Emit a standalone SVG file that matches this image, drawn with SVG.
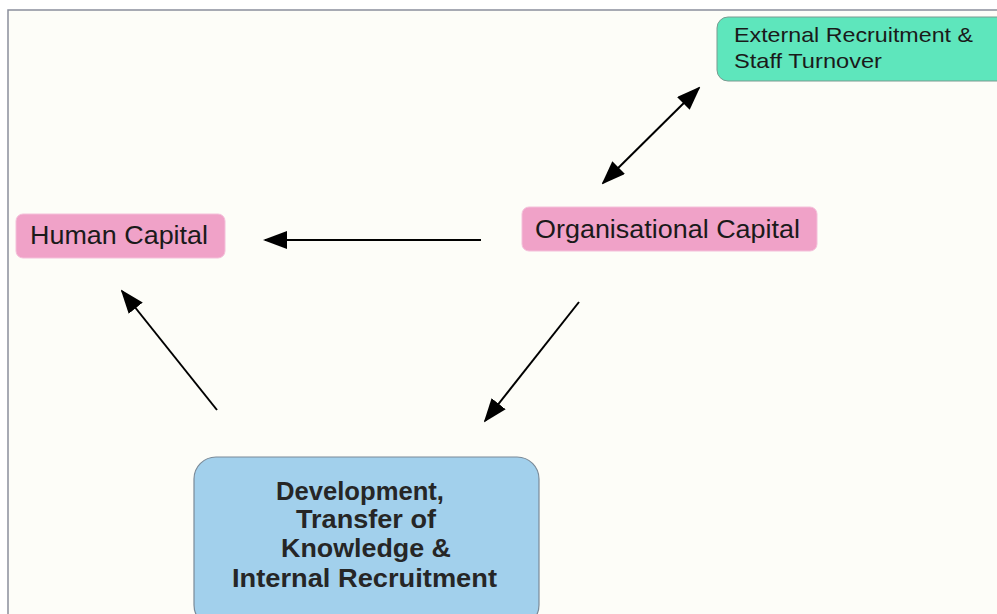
<svg xmlns="http://www.w3.org/2000/svg" width="997" height="614" viewBox="0 0 997 614">
<style>
.pink{fill:#f0a2c8;stroke:#f4c0da;stroke-width:1}
.t{font-family:"Liberation Sans",Arial,sans-serif;fill:#1a1a1a}
.b{font-size:26px;font-weight:bold;fill:#262626}
.c{stroke:#000;stroke-width:2;fill:none}
</style>
<defs>
<marker id="ah" viewBox="0 0 24 18" refX="22" refY="9" markerWidth="24" markerHeight="18" markerUnits="userSpaceOnUse" orient="auto-start-reverse">
<path d="M0,0 L24,9 L0,18 Z" fill="#000"/>
</marker>
</defs>
<rect x="0" y="0" width="997" height="614" fill="#ffffff"/>
<rect x="8" y="10" width="995" height="610" fill="#fdfdf8" stroke="#8a8f9c" stroke-width="1.5"/>
<g id="connectors">
<line class="c" x1="481" y1="240" x2="265" y2="240" marker-end="url(#ah)"/>
<line class="c" x1="603" y1="183" x2="699" y2="88" marker-start="url(#ah)" marker-end="url(#ah)"/>
<line class="c" x1="579" y1="302" x2="485" y2="421" marker-end="url(#ah)"/>
<line class="c" x1="217" y1="410" x2="122" y2="291" marker-end="url(#ah)"/>
</g>
<g id="external">
<rect x="717" y="17" width="300" height="64" rx="11" fill="#5ee6bc" stroke="#7a9a90" stroke-width="1"/>
<text class="t" x="734" y="42" font-size="21" textLength="239" lengthAdjust="spacingAndGlyphs">External Recruitment &amp;</text>
<text class="t" x="734" y="68" font-size="21" textLength="148" lengthAdjust="spacingAndGlyphs">Staff Turnover</text>
</g>
<g id="human">
<rect class="pink" x="16" y="214" width="209" height="44" rx="7"/>
<text class="t" x="30" y="244" font-size="25" textLength="178" lengthAdjust="spacingAndGlyphs">Human Capital</text>
</g>
<g id="organisational">
<rect class="pink" x="522" y="207" width="295" height="44" rx="7"/>
<text class="t" x="535" y="238" font-size="25" textLength="265" lengthAdjust="spacingAndGlyphs">Organisational Capital</text>
</g>
<g id="development">
<rect x="194" y="457" width="345" height="170" rx="22" fill="#a2d0ec" stroke="#7a8a98" stroke-width="1.2"/>
<text class="t b" x="276" y="500" textLength="168" lengthAdjust="spacingAndGlyphs">Development,</text>
<text class="t b" x="296" y="528" textLength="140" lengthAdjust="spacingAndGlyphs">Transfer of</text>
<text class="t b" x="281" y="557" textLength="170" lengthAdjust="spacingAndGlyphs">Knowledge &amp;</text>
<text class="t b" x="232" y="587" textLength="265" lengthAdjust="spacingAndGlyphs">Internal Recruitment</text>
</g>
</svg>
